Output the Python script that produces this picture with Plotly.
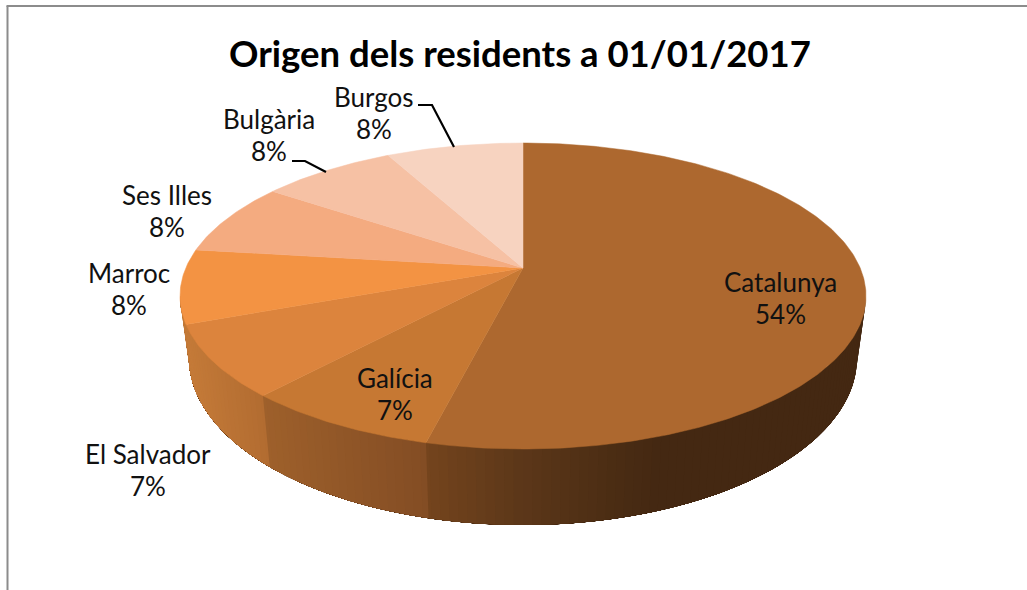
import numpy as np
import plotly.graph_objects as go

# --- data ---
categories = ["Catalunya", "Galícia", "El Salvador", "Marroc", "Ses Illes", "Bulgària", "Burgos"]
shares = [53.8, 7.8, 7.6, 7.8, 7.7, 7.6, 7.7]
percent_labels = ["54%", "7%", "7%", "8%", "8%", "8%", "8%"]
top_colors = ["#AD682F", "#C67833", "#DC843D", "#F39343", "#F4AB80", "#F6C1A4", "#F7D3C0"]
title_text = "Origen dels residents a 01/01/2017"

# --- geometry of the tilted pie, in the axis units (pixels of the frame) ---
CX, CY, RX, RY = 523.0, 296.0, 343.0, 153.0
TILT = 0.183                       # perspective: moves the pie's centre up the ellipse
BOT_CY, BOT_RX, BOT_RY = 358.0, 334.0, 167.0
S = np.sqrt(1 - TILT ** 2)


def project(theta):
    """Angle clockwise from 12 o'clock -> point on the top face rim."""
    theta = np.asarray(theta, float)
    x, y = np.sin(theta), np.cos(theta)
    den = 1 + TILT * y
    return CX + RX * x * S / den, CY - RY * (y + TILT) / den


def lower(px):
    """Rim point of the top face -> matching point of the base rim."""
    qx = CX + (px - CX) * BOT_RX / RX
    q = np.clip((qx - CX) / BOT_RX, -1, 1)
    return qx, BOT_CY + BOT_RY * np.sqrt(1 - q ** 2)


def hex2rgb(h):
    return np.array([int(h[i:i + 2], 16) for i in (1, 3, 5)], float)


centre = (CX, CY - RY * TILT)
bounds = np.r_[0, np.cumsum(shares)] / sum(shares) * 2 * np.pi

# wall shade: gradient along the rim, with a step at each visible slice boundary
x_cat = float(project(bounds[1])[0])     # Catalunya / Galícia
x_gal = float(project(bounds[2])[0])     # Galícia / El Salvador
wall_stops_x = [185, x_gal - 0.01, x_gal + 0.01, x_cat - 0.01, x_cat + 0.01, 520, 620, 660, 870]
wall_stops_c = ["#C47A38", "#B26C31", "#9E602B", "#834D24", "#74441D", "#5C3719", "#4A2C13", "#442812", "#442812"]
wall_rgb = np.array([hex2rgb(c) for c in wall_stops_c])


def wall_color(x):
    r = [np.interp(x, wall_stops_x, wall_rgb[:, k]) for k in range(3)]
    return "rgb(%d,%d,%d)" % tuple(int(round(v)) for v in r)


fig = go.Figure()

# side wall: overlapping strips painted right to left along the front of the rim,
# each running on to the far end so that no seam can show through
th_fine = np.linspace(0, 2 * np.pi, 3601)
th_front = th_fine[project(th_fine)[1] >= CY]
th_lo, th_hi = th_front.min(), th_front.max()
edges = np.unique(np.r_[np.linspace(th_lo, th_hi, 121), bounds[1], bounds[2]])
for a, a_next in zip(edges[:-1], edges[1:]):
    t = np.linspace(a, th_hi, 120)
    px, py = project(t)
    qx, qy = lower(px)
    col = wall_color(float(project((a + a_next) / 2)[0]))
    fig.add_trace(go.Scatter(
        x=np.r_[px, qx[::-1]], y=np.r_[py, qy[::-1]], mode="lines", fill="toself",
        fillcolor=col, line=dict(width=0), hoverinfo="skip", showlegend=False))

# top face slices, from the shares
for name, lab, a, b, col in zip(categories, percent_labels, bounds[:-1], bounds[1:], top_colors):
    t = np.linspace(a, b, max(int((b - a) * 80), 12))
    px, py = project(t)
    fig.add_trace(go.Scatter(
        x=np.r_[centre[0], px, centre[0]], y=np.r_[centre[1], py, centre[1]],
        mode="lines", fill="toself", fillcolor=col, line=dict(color=col, width=0.5),
        name=name, text=f"{name}: {lab}", hoverinfo="text", showlegend=False))

# leader lines
leaders = {
    "Burgos": ([418, 432, 454], [105, 105, 147]),
    "Bulgària": ([292, 305, 326], [161, 161, 172]),
}
for lx, ly in leaders.values():
    fig.add_trace(go.Scatter(x=lx, y=ly, mode="lines", line=dict(color="black", width=2.2),
                             hoverinfo="skip", showlegend=False))

# labels: name line and percentage line
label_pos = {
    "Catalunya": (780, 282), "Galícia": (395, 378), "El Salvador": (148, 454),
    "Marroc": (129, 273), "Ses Illes": (167, 195), "Bulgària": (269, 119), "Burgos": (374, 97),
}
LINE_GAP = 32
label_font = dict(family="Lato", size=26, color="#111111")
for name, lab in zip(categories, percent_labels):
    lx, ly = label_pos[name]
    fig.add_annotation(x=lx, y=ly, text=name, showarrow=False, font=label_font)
    fig.add_annotation(x=lx, y=ly + LINE_GAP, text=lab, showarrow=False, font=label_font)

fig.add_annotation(x=520, y=53, text=f"<b>{title_text}</b>", showarrow=False,
                   font=dict(family="Lato", size=36.5, color="black"))

# chart frame
frame_c = "#8C8C8C"
fig.add_shape(type="line", x0=7.5, x1=7.5, y0=6, y1=590, line=dict(color=frame_c, width=2))
fig.add_shape(type="line", x0=6.5, x1=1027, y0=6, y1=6, line=dict(color=frame_c, width=2))

fig.update_layout(
    width=1027, height=590, margin=dict(l=0, r=0, t=0, b=0),
    paper_bgcolor="white", plot_bgcolor="white", showlegend=False,
    xaxis=dict(range=[0, 1027], visible=False, fixedrange=True),
    yaxis=dict(range=[590, 0], visible=False, fixedrange=True),
)
fig.write_html("out.html", config={"displayModeBar": False},
               post_script="document.body.style.margin='0';document.documentElement.style.overflow='hidden';window.dispatchEvent(new Event('resize'));")
